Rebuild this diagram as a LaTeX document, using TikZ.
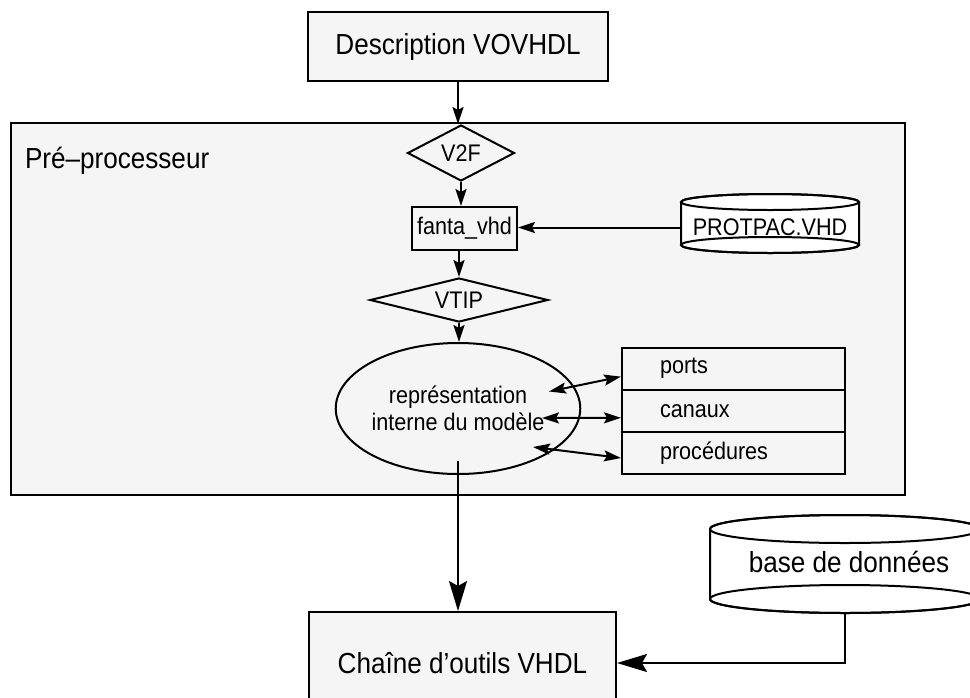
\documentclass[tikz,border=0pt]{standalone}
\usepackage{fontspec}
\setmainfont{Liberation Sans}[FakeStretch=0.9]
\usetikzlibrary{shapes.geometric,arrows.meta,calc}
\definecolor{boxgray}{RGB}{245,245,245}
\begin{document}
\begin{tikzpicture}[x=1pt,y=-1pt, line width=2pt,
  box/.style={draw, fill=boxgray, rectangle, inner sep=0pt},
  big/.style={font=\fontsize{29}{35}\selectfont},
  small/.style={font=\fontsize{24}{27}\selectfont},
  dia/.style={draw, fill=boxgray, diamond, aspect=2, inner sep=0pt},
  sarr/.style={-{Stealth[length=17pt,width=11pt,inset=3pt]}},
  barr/.style={-{Stealth[length=30pt,width=18pt,inset=5pt]}},
  darr/.style={{Stealth[length=17pt,width=11pt,inset=3pt]}-{Stealth[length=17pt,width=11pt,inset=3pt]}},
  cylbody/.style={draw, fill=white}]
\useasboundingbox (0,0) rectangle (970,697);

% pre-processor frame
\node[box, minimum width=894pt, minimum height=372pt] (pre) at (458,309) {};
\node[big, anchor=base west, inner sep=0pt] (prelabel) at (24,168) {Pré–processeur};

% top box
\node[box, big, minimum width=300pt, minimum height=69pt] (desc) at (458,46.5) {Description VOVHDL};

% flow inside
\node[dia, small, minimum width=107pt, minimum height=56pt] (v2f) at (461,153) {V2F};
\node[box, small, minimum width=105pt, minimum height=43pt] (fanta) at (464.5,228.5) {fanta\_vhd};
\node[dia, small, minimum width=178pt, minimum height=44pt] (vtip) at (459,300) {VTIP};
\node[draw, fill=boxgray, ellipse, inner sep=0pt, minimum width=222pt, minimum height=131pt, small, align=center] (ell) at (458,408.5) {représentation\\interne du modèle};

% table
\node[box, small, minimum width=223pt, minimum height=42.2pt, text width=147pt, inner xsep=38pt, align=left] (ports) at (733.5,368.6) {ports};
\node[box, small, minimum width=223pt, minimum height=42.2pt, text width=147pt, inner xsep=38pt, align=left] (canaux) at (733.5,410.8) {canaux};
\node[box, small, minimum width=223pt, minimum height=42.2pt, text width=147pt, inner xsep=38pt, align=left] (proc) at (733.5,453) {procédures};

% PROTPAC cylinder
\path[cylbody] (681,202) -- (681,245) arc[start angle=180, end angle=360, x radius=89pt, y radius=8pt] -- (859,202) arc[start angle=0, end angle=180, x radius=89pt, y radius=8pt] -- cycle;
\draw (770,202) ellipse [x radius=89pt, y radius=8pt];
\draw (770,245) ellipse [x radius=89pt, y radius=8pt];
\node[small, inner sep=0pt, minimum width=178pt] (prot) at (770,227.5) {PROTPAC.VHD};

% database cylinder
\path[cylbody] (710,529) -- (710,599) arc[start angle=180, end angle=360, x radius=135pt, y radius=14pt] -- (980,529) arc[start angle=0, end angle=180, x radius=135pt, y radius=14pt] -- cycle;
\draw (845,529) ellipse [x radius=135pt, y radius=14pt];
\draw (845,599) ellipse [x radius=135pt, y radius=14pt];
\node[big, inner sep=0pt] (bdd) at (849,562) {base de données};
\coordinate (bddbot) at (845,613);

% bottom box
\node[box, big, minimum width=307pt, minimum height=102pt] (chaine) at (462.5,663) {Chaîne d’outils VHDL};

% connectors
\draw[sarr] (desc.south) -- (desc.south |- v2f.north);
\draw[sarr] (v2f.south) -- (v2f.south |- fanta.north);
\draw[sarr] (vtip.north |- fanta.south) -- (vtip.north);
\draw[sarr] (vtip.south) -- (vtip.south |- ell.north);
\draw[sarr] (prot.west) -- (prot.west -| fanta.east);
\draw[barr] ($(ell.south)+(0,-14)$) -- (ell.south |- chaine.north);
\draw[darr] ($(ell.center)+(91,-17)$) -- ($(ports.west)+(0,8)$);
\draw[darr] ($(ell.center)+(84,9.5)$) -- ($(canaux.west)+(0,7)$);
\draw[darr] ($(ell.center)+(75,38.5)$) -- ($(proc.west)+(0,5)$);
\draw[barr] (bddbot) |- (chaine.east);
\end{tikzpicture}
\end{document}
